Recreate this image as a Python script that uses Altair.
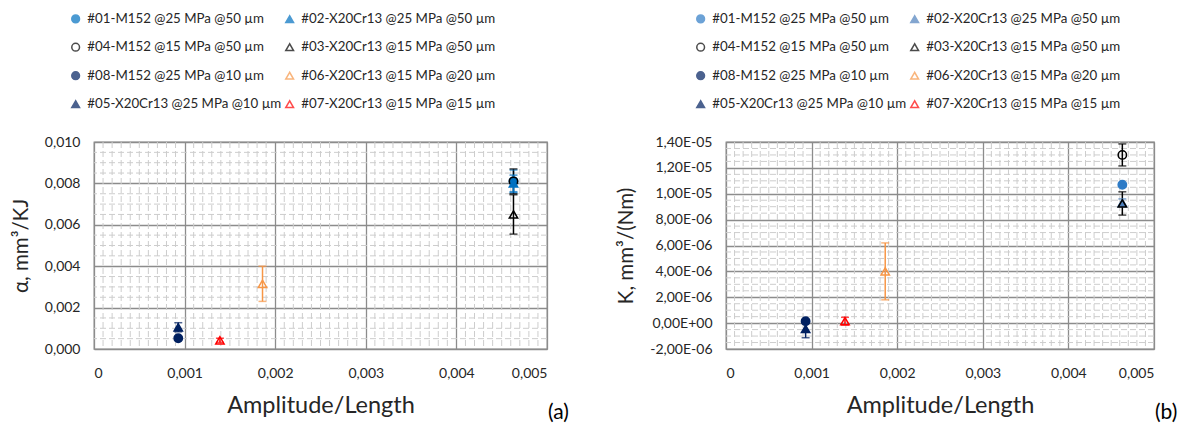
import json
import altair as alt
import pandas as pd

# ---------------- data ----------------
# (legend is filled column by column: first column #01 #04 #08 #05, second #02 #03 #06 #07)
series = [
    "#01-M152 @25 MPa @50 µm", "#04-M152 @15 MPa @50 µm",
    "#08-M152 @25 MPa @10 µm", "#05-X20Cr13 @25 MPa @10 µm",
    "#02-X20Cr13 @25 MPa @50 µm", "#03-X20Cr13 @15 MPa @50 µm",
    "#06-X20Cr13 @15 MPa @20 µm", "#07-X20Cr13 @15 MPa @15 µm",
]
shapes = ["circle", "circle", "circle", "triangle-up",
          "triangle-up", "triangle-up", "triangle-up", "triangle-up"]
amplitude = [0.00463, 0.00463, 0.00093, 0.00093, 0.00463, 0.00463, 0.00186, 0.00139]

alpha = [0.0081, 0.0081, 0.00052, 0.00105, 0.0080, 0.0065, 0.00315, 0.00042]
alpha_err = [0.00055, 0.0006, 0.00003, 0.00022, 0.0004, 0.00095, 0.00085, 0.0001]

k_val = [1.07e-5, 1.30e-5, 1.5e-7, -4.5e-7, 9.3e-6, 9.25e-6, 4.0e-6, 1.5e-7]
k_err = [0.0, 8.5e-7, 1e-7, 6.8e-7, 3e-7, 9e-7, 2.2e-6, 3e-7]

stroke_a = ["#0070C0", "#000000", "#002060", "#002060", "#0070C0", "#000000", "#F79646", "#FF0000"]
fill_a = ["#0070C0", "transparent", "#002060", "#002060", "#0070C0", "transparent", "transparent", "transparent"]
stroke_b = ["#2E7BC6", "#000000", "#002060", "#002060", "#4F81BD", "#000000", "#F79646", "#FF0000"]
fill_b = ["#2E7BC6", "transparent", "#002060", "#002060", "#4F81BD", "transparent", "transparent", "transparent"]

x_ticks = [0, 0.001, 0.002, 0.003, 0.004, 0.005]
x_labels = ["0", "0,001", "0,002", "0,003", "0,004", "0,005"]
ya_ticks = [0, 0.002, 0.004, 0.006, 0.008, 0.010]
ya_labels = ["0,000", "0,002", "0,004", "0,006", "0,008", "0,010"]
yb_ticks = [-2e-6, 0, 2e-6, 4e-6, 6e-6, 8e-6, 1e-5, 1.2e-5, 1.4e-5]
yb_labels = ["-2,00E-06", "0,00E+00", "2,00E-06", "4,00E-06", "6,00E-06",
             "8,00E-06", "1,00E-05", "1,20E-05", "1,40E-05"]

x_minor = [i * 0.0001 for i in range(1, 50) if i % 10]
ya_minor = [i * 0.0005 for i in range(1, 20) if i % 4]
yb_minor = [-2e-6 + i * 5e-7 for i in range(1, 32) if i % 4]

FONT = "Lato"
MAJOR = "#8C8C8C"
MINOR = "#CDCDCD"
TXT = "#262626"


def panel(vals, errs, strokes, fills, yt, ylabels, yminor, ydom, ytitle, tag, w, h,
          idx_expr, leg_x):
    df = pd.DataFrame({"series": series, "amp": amplitude, "val": vals, "err": errs,
                       "stroke": strokes})
    df["lo"] = df["val"] - df["err"]
    df["hi"] = df["val"] + df["err"]
    dfe = df[df["err"] > 0]

    xs = alt.Scale(domain=[x_ticks[0], x_ticks[-1]], nice=False, zero=False)
    ys = alt.Scale(domain=ydom, nice=False, zero=False)
    xax = alt.Axis(values=x_ticks, grid=True, gridColor=MAJOR, gridWidth=1.3,
                   labelExpr=json.dumps(x_labels) + "[round(datum.value/0.001)]",
                   labelPadding=17, titlePadding=13, titleFontSize=23.5)
    yax = alt.Axis(values=yt, grid=True, gridColor=MAJOR, gridWidth=1.3,
                   labelExpr=json.dumps(ylabels) + idx_expr,
                   labelPadding=14, titlePadding=13, titleFontSize=20.5)

    def X(f):
        return alt.X(f, scale=xs, axis=xax, title="Amplitude/Length")

    def Y(f):
        return alt.Y(f, scale=ys, axis=yax, title=ytitle)

    gx = alt.Chart(pd.DataFrame({"v": x_minor})).mark_rule(
        color=MINOR, strokeWidth=1, strokeDash=[6, 3]
    ).encode(x=X("v:Q"))
    gy = alt.Chart(pd.DataFrame({"v": yminor})).mark_rule(
        color=MINOR, strokeWidth=1, strokeDash=[6, 3]
    ).encode(y=Y("v:Q"))

    bars = alt.Chart(dfe).mark_rule(strokeWidth=1.5).encode(
        x=X("amp:Q"), y=Y("lo:Q"), y2="hi:Q",
        color=alt.Color("stroke:N", scale=None),
    )
    cap_lo = alt.Chart(dfe).mark_tick(orient="horizontal", size=8, thickness=1.5).encode(
        x=X("amp:Q"), y=Y("lo:Q"), color=alt.Color("stroke:N", scale=None),
    )
    cap_hi = alt.Chart(dfe).mark_tick(orient="horizontal", size=8, thickness=1.5).encode(
        x=X("amp:Q"), y=Y("hi:Q"), color=alt.Color("stroke:N", scale=None),
    )

    legend = alt.Legend(
        title=None, orient="none", legendX=leg_x, legendY=-130, columns=2,
        columnPadding=0, rowPadding=13.5, labelFont=FONT, labelFontSize=13.3,
        labelColor=TXT, symbolSize=60, symbolStrokeWidth=1.5, labelLimit=400,
        labelOffset=5, padding=0,
    )
    pts = alt.Chart(df).mark_point(opacity=1, strokeWidth=1.5, size=70).encode(
        x=X("amp:Q"), y=Y("val:Q"),
        color=alt.Color("series:N", scale=alt.Scale(domain=series, range=strokes), legend=legend),
        fill=alt.Fill("series:N", scale=alt.Scale(domain=series, range=fills), legend=legend),
        shape=alt.Shape("series:N", scale=alt.Scale(domain=series, range=shapes), legend=legend),
    )
    lab = alt.Chart(pd.DataFrame({"t": [tag]})).mark_text(
        font=FONT, fontSize=21, align="left", baseline="middle", color="#000"
    ).encode(text="t:N", x=alt.value(w + 1), y=alt.value(h + 64))

    return alt.layer(gx, gy, bars, cap_lo, cap_hi, pts, lab).properties(width=w, height=h)


left = panel(alpha, alpha_err, stroke_a, fill_a, ya_ticks, ya_labels, ya_minor,
             [0, 0.010], "α, mm³/KJ", "(a)", 453, 207, "[round(datum.value/0.002)]", -25)
right = panel(k_val, k_err, stroke_b, fill_b, yb_ticks, yb_labels, yb_minor,
              [-2e-6, 1.4e-5], "K, mm³/(Nm)", "(b)", 428, 207,
              "[round((datum.value+0.000002)/0.000002)]", -32)

chart = alt.hconcat(left, right, spacing=46).resolve_scale(
    x="independent", y="independent", color="independent",
    fill="independent", shape="independent",
).resolve_legend(color="independent", fill="independent", shape="independent").properties(
    padding={"left": 2, "top": 3, "right": 0, "bottom": 0}
).configure_view(stroke=MAJOR, strokeWidth=1.3).configure_axis(
    labelFont=FONT, titleFont=FONT, labelFontSize=14, labelColor=TXT,
    titleColor=TXT, titleFontWeight="normal", domain=False, ticks=False,
)

chart.save("out.html", embed_options={"renderer": "svg", "actions": False})
